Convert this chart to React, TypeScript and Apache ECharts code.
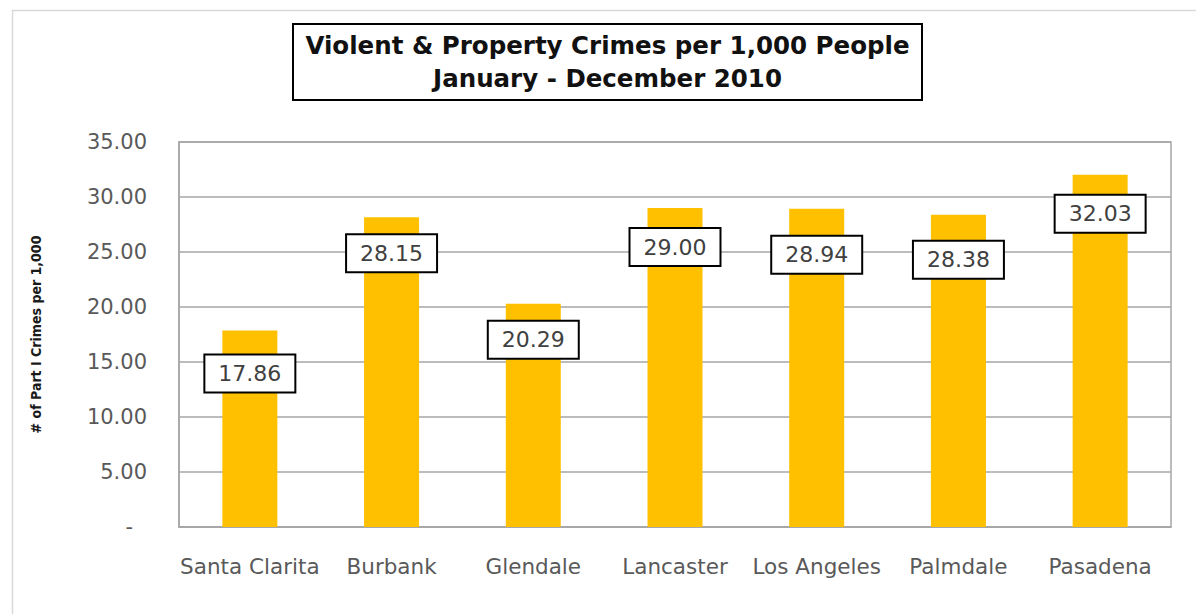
import React, { useEffect, useRef } from "react";
import * as echarts from "echarts";

const categories = ["Santa Clarita", "Burbank", "Glendale", "Lancaster", "Los Angeles", "Palmdale", "Pasadena"];
const crimeRates = [17.86, 28.15, 20.29, 29.0, 28.94, 28.38, 32.03];
const titleLines = ["Violent & Property Crimes per 1,000 People", "January - December 2010"];
const yAxisName = "# of Part I Crimes per 1,000";
// vertical offsets (px) of each data label below its bar top
const labelDrops = [25, 18, 18, 21, 28, 27, 21];

const FONT = "'DejaVu Sans', 'Open Sans', sans-serif";

export default function App() {
  const ref = useRef<HTMLDivElement>(null);
  useEffect(() => {
    if (!ref.current) return;
    const chart = echarts.init(ref.current, undefined, { renderer: "svg" });
    chart.setOption({
      animation: false,
      backgroundColor: "#ffffff",
      grid: {
        left: 179,
        top: 142,
        right: 25,
        bottom: 87,
        show: true,
        borderColor: "#A6A6A6",
        borderWidth: 1.5,
        backgroundColor: "transparent",
      },
      xAxis: {
        type: "category",
        data: categories,
        axisTick: { show: false },
        axisLine: { show: true, lineStyle: { color: "#A6A6A6", width: 1.5 } },
        axisLabel: { color: "#595959", fontSize: 21.5, fontFamily: FONT, margin: 28, interval: 0 },
      },
      yAxis: {
        type: "value",
        min: 0,
        max: 35,
        interval: 5,
        name: yAxisName,
        nameLocation: "middle",
        nameGap: 136,
        nameRotate: 90,
        nameTextStyle: {
          fontSize: 14,
          fontWeight: "bold",
          color: "#1a1a1a",
          fontFamily: "'Liberation Sans Narrow', 'DejaVu Sans Condensed', sans-serif",
        },
        axisLine: { show: true, lineStyle: { color: "#A6A6A6", width: 1.5 } },
        axisTick: { show: false },
        splitLine: { show: true, lineStyle: { color: "#A6A6A6", width: 1.5 } },
        axisLabel: {
          color: "#595959",
          fontSize: 21,
          fontFamily: FONT,
          margin: 32,
          formatter: (v: number) => (v === 0 ? "{d|-}" : v.toFixed(2)),
          rich: { d: { fontSize: 21, fontFamily: FONT, color: "#595959", padding: [0, 14, 0, 0] } },
        },
      },
      series: [
        {
          type: "bar",
          barWidth: 55,
          itemStyle: { color: "#FFC000" },
          data: crimeRates.map((v, i) => ({
            value: v,
            label: { offset: [0, labelDrops[i]] },
          })),
          label: {
            show: true,
            position: "insideTop",
            distance: 0,
            formatter: (p: any) => Number(p.value).toFixed(2),
            color: "#404040",
            fontSize: 22,
            fontFamily: FONT,
            lineHeight: 22,
            backgroundColor: "#ffffff",
            borderColor: "#000000",
            borderWidth: 2,
            padding: [7, 13],
          },
        },
      ],
      graphic: [
        {
          type: "rect",
          shape: { x: 12.5, y: 10.5, width: 1190, height: 640 },
          style: { fill: "none", stroke: "#D9D9D9", lineWidth: 1.5 },
          silent: true,
        },
        {
          type: "rect",
          shape: { x: 293, y: 24, width: 629, height: 76 },
          style: { fill: "#ffffff", stroke: "#000000", lineWidth: 2 },
        },
        {
          type: "text",
          x: 607.5,
          y: 45,
          style: {
            text: titleLines[0],
            fontSize: 24.5,
            fontWeight: "bold",
            fontFamily: FONT,
            fill: "#111111",
            align: "center",
            verticalAlign: "middle",
          },
        },
        {
          type: "text",
          x: 607.5,
          y: 78,
          style: {
            text: titleLines[1],
            fontSize: 24.5,
            fontWeight: "bold",
            fontFamily: FONT,
            fill: "#111111",
            align: "center",
            verticalAlign: "middle",
          },
        },
      ],
    });
    return () => chart.dispose();
  }, []);
  return <div ref={ref} style={{ position: "fixed", left: 0, top: 0, width: 1196, height: 614 }} />;
}
